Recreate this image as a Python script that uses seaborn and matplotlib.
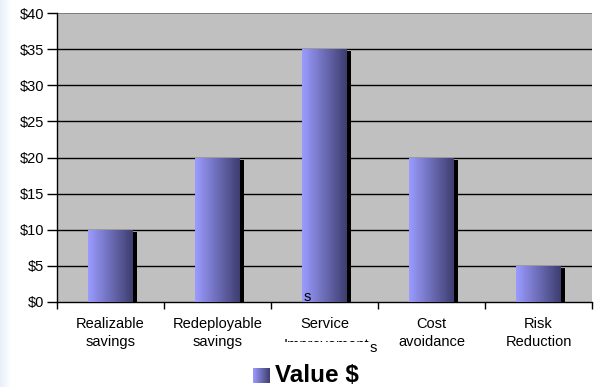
import numpy as np
import pandas as pd
import matplotlib
matplotlib.use("Agg")
import matplotlib.pyplot as plt
import matplotlib.transforms as mtransforms
from matplotlib.patches import Rectangle
import seaborn as sns

categories = ["Realizable\nsavings", "Redeployable\nsavings", "Service\nImprovements",
              "Cost\navoidance", "Risk\nReduction"]
values = [10, 20, 35, 20, 5]
yticks = [0, 5, 10, 15, 20, 25, 30, 35, 40]
ytick_labels = ["$0", "$5", "$10", "$15", "$20", "$25", "$30", "$35", "$40"]
legend_label = "Value $"

sns.set_theme(style="white")
plt.rcParams["font.family"] = ["Liberation Sans", "DejaVu Sans"]

W, H = 594, 387
fig = plt.figure(figsize=(W / 100, H / 100), dpi=100)
fig.patch.set_facecolor("white")

# faint blue left-edge background
bg = fig.add_axes([0, 0, 1, 1], zorder=-10)
grad_bg = np.ones((1, 300, 3))
for i in range(300):
    t = min(1.0, i / 5.0)
    grad_bg[0, i] = (0.91 + 0.09 * t, 0.94 + 0.06 * t, 0.98 + 0.02 * t)
bg.imshow(grad_bg, extent=[0, 1, 0, 1], aspect="auto")
bg.axis("off")

ax = fig.add_axes([57 / W, 1 - 302 / H, (592 - 57) / W, (302 - 13) / H])

df = pd.DataFrame({"category": categories, "value": values})
sns.barplot(data=df, x="category", y="value", ax=ax, width=0.42,
            color="#9999FF", saturation=1, zorder=3)

ax.set_facecolor("#C0C0C0")

# gridlines
for y in yticks[1:-1]:
    ax.axhline(y, color="black", lw=1.0, zorder=1)
ax.axhline(40, color="#707070", lw=1.2, zorder=1)

# bars: shadow + gradient
c_left = np.array([155, 155, 255]) / 255
c_right = np.array([62, 62, 112]) / 255
n = 64
grad = np.zeros((1, n, 3))
for i in range(n):
    t = i / (n - 1)
    grad[0, i] = c_left * (1 - t) + c_right * t

shadow_tr = ax.transData + mtransforms.ScaledTranslation(4 / 100, -2 / 100, fig.dpi_scale_trans)
for p in list(ax.patches):
    x0, y0 = p.get_x(), p.get_y()
    w, h = p.get_width(), p.get_height()
    sh = Rectangle((x0, y0), w, h, transform=shadow_tr, facecolor="black",
                   edgecolor="none", zorder=2)
    sh.set_clip_path(ax.patch)
    ax.add_patch(sh)
    p.set_facecolor("none")
    p.set_edgecolor("none")
    im = ax.imshow(grad, extent=[x0, x0 + w, y0, y0 + h], aspect="auto",
                   zorder=3, interpolation="bilinear")
    im.set_clip_path(p)

ax.set_xlim(-0.5, len(categories) - 0.5)
ax.set_ylim(0, 40)
ax.set_aspect("auto")

# spines
for s in ["top", "right"]:
    ax.spines[s].set_visible(False)
ax.spines["left"].set_color("black")
ax.spines["bottom"].set_color("black")
ax.spines["left"].set_linewidth(1.0)
ax.spines["bottom"].set_linewidth(1.0)

FS = 10.5
ax.set_yticks(yticks)
ax.set_yticklabels(ytick_labels)
ax.tick_params(axis="y", which="major", length=7, width=1, color="black",
               direction="out", pad=2, labelsize=FS, left=True)
ax.set_xticks(range(len(categories)))
# the third label's second line is drawn separately below (partly clipped, as in the reference)
first3, second3 = categories[2].split("\n")
shown = [c if i != 2 else first3 for i, c in enumerate(categories)]
ax.set_xticklabels(shown)
ax.set_xticks(np.arange(-0.5, len(categories), 1.0), minor=True)
ax.tick_params(axis="x", which="major", length=0, pad=11, labelsize=FS)
ax.tick_params(axis="x", which="minor", length=5, width=1, color="black",
               direction="out", bottom=True)
ax.set_xlabel("")
ax.set_ylabel("")
for lab in ax.get_xticklabels() + ax.get_yticklabels():
    lab.set_color("black")
    lab.set_linespacing(1.3)

# second line of "Service Improvements": only its top is visible, the final "s" shows fully
t2 = fig.text(369.5 / W, 1 - 345.5 / H, second3[:-1], ha="right", va="center",
              fontsize=FS, color="black")
t2.set_clip_box(mtransforms.TransformedBbox(
    mtransforms.Bbox.from_extents(0, (H - 342) / H, 1, 1), fig.transFigure))
t2.set_clip_on(True)
fig.text(369.5 / W, 1 - 348 / H, second3[-1], ha="left", va="center", fontsize=FS,
         color="black")
fig.text(307 / W, 1 - 297 / H, "s", ha="center", va="center", fontsize=FS, color="black",
         zorder=10)

# legend
lax = fig.add_axes([253 / W, 1 - 383 / H, 17 / W, 15 / H])
lax.imshow(grad, extent=[0, 1, 0, 1], aspect="auto", interpolation="bilinear")
lax.axis("off")
fig.text(275 / W, 1 - 375 / H, legend_label, ha="left", va="center",
         fontsize=17.5, fontweight="bold", color="black")

fig.savefig("out.png", dpi=100)
